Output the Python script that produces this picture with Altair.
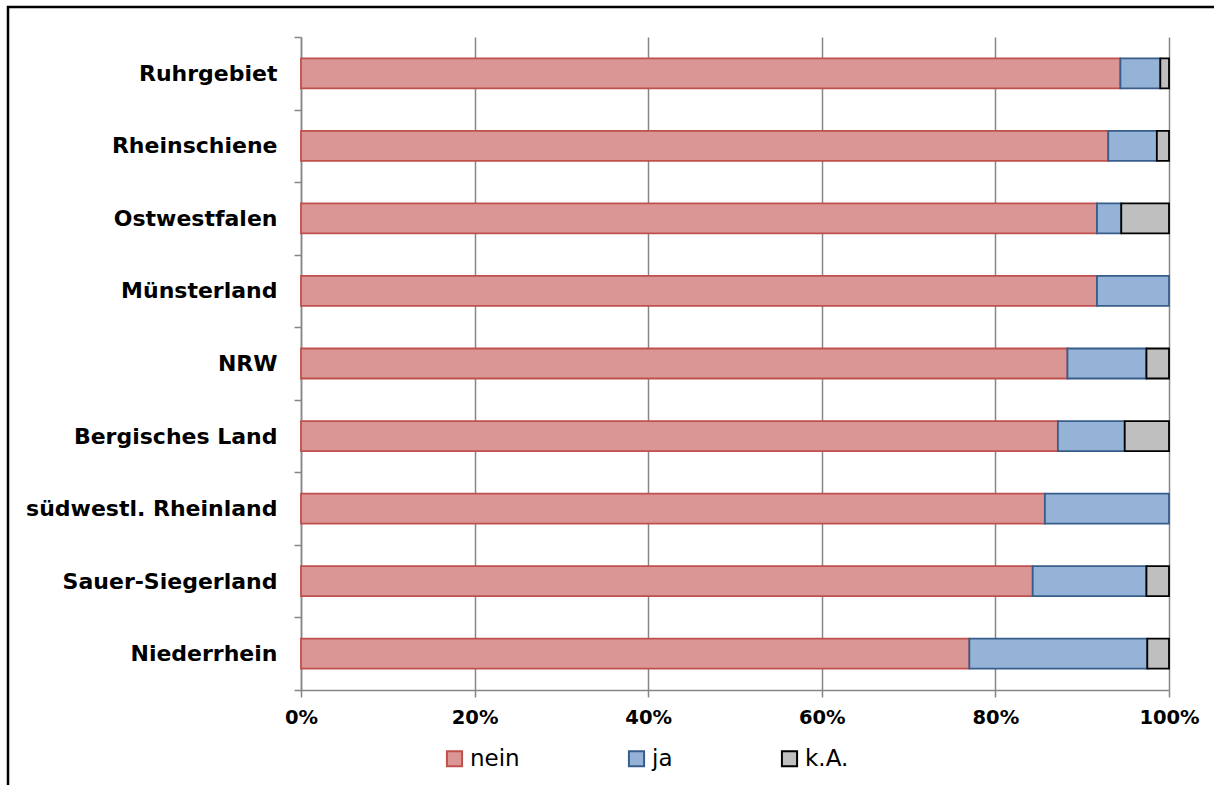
import altair as alt
import pandas as pd

regions = ["Ruhrgebiet", "Rheinschiene", "Ostwestfalen", "Münsterland", "NRW",
           "Bergisches Land", "südwestl. Rheinland", "Sauer-Siegerland", "Niederrhein"]
nein = [94.4, 93.0, 91.7, 91.7, 88.3, 87.2, 85.7, 84.3, 77.0]
ja = [4.6, 5.6, 2.8, 8.3, 9.1, 7.7, 14.3, 13.1, 20.5]
ka = [1.0, 1.4, 5.5, 0.0, 2.6, 5.1, 0.0, 2.6, 2.5]
answers = ["nein", "ja", "k.A."]
fills = ["#D99694", "#95B3D7", "#BFBFBF"]
strokes = ["#C0504D", "#385D8A", "#000000"]
x_ticks = [0, 0.2, 0.4, 0.6, 0.8, 1.0]

rows = []
for i, r in enumerate(regions):
    for j, (a, vals) in enumerate(zip(answers, [nein, ja, ka])):
        rows.append({"Region": r, "Antwort": a, "Wert": vals[i], "ord": j})
df = pd.DataFrame(rows)

FONT = "DejaVu Sans"

frame = alt.Chart(alt.Data(values=[{"a": 1}])).mark_rect(
    fill="transparent", stroke="#000000", strokeWidth=2.5
).encode(
    x=alt.value(-293), x2=alt.value(1000), y=alt.value(-30), y2=alt.value(900)
)

bars = alt.Chart(df).transform_filter("datum.Wert > 0").mark_bar(
    size=30, strokeWidth=1.8
).encode(
    y=alt.Y("Region:N", sort=regions, title=None,
            scale=alt.Scale(paddingInner=0, paddingOuter=0),
            axis=alt.Axis(tickBand="extent", labelFont=FONT, labelFontSize=22,
                          labelFontWeight="bold", labelColor="#000000",
                          labelPadding=17, labelLimit=400, tickSize=7,
                          tickColor="#868686", tickWidth=1.5,
                          domainColor="#868686", domainWidth=1.5, grid=False)),
    x=alt.X("Wert:Q", stack="normalize", title=None,
            scale=alt.Scale(domain=[0, 1], nice=False),
            axis=alt.Axis(values=x_ticks, format=".0%", labelFont=FONT,
                          labelFontSize=19.5, labelFontWeight="bold",
                          labelColor="#000000", labelPadding=11, tickSize=7,
                          labelFlush=False,
                          tickColor="#868686", tickWidth=1.5,
                          domainColor="#868686", domainWidth=1.5,
                          grid=True, gridColor="#868686", gridWidth=1.5)),
    fill=alt.Fill("Antwort:N", scale=alt.Scale(domain=answers, range=fills),
                  legend=alt.Legend(title=None, orient="none", legendX=142,
                                    legendY=710, direction="horizontal",
                                    symbolType="square", symbolSize=230,
                                    symbolStrokeWidth=2, labelFont=FONT,
                                    labelFontSize=23, labelColor="#000000",
                                    labelOffset=4, columnPadding=104,
                                    labelLimit=300)),
    stroke=alt.Stroke("Antwort:N", scale=alt.Scale(domain=answers, range=strokes),
                      legend=None),
    order=alt.Order("ord:Q"),
)

chart = alt.layer(frame, bars).properties(
    width=868, height=653,
    autosize=alt.AutoSizeParams(type="none"),
    padding={"left": 301, "top": 37, "right": 45, "bottom": 95},
    background="#FFFFFF",
).configure_view(strokeWidth=0)

chart.save("out.html", embed_options={"renderer": "svg", "actions": False})
